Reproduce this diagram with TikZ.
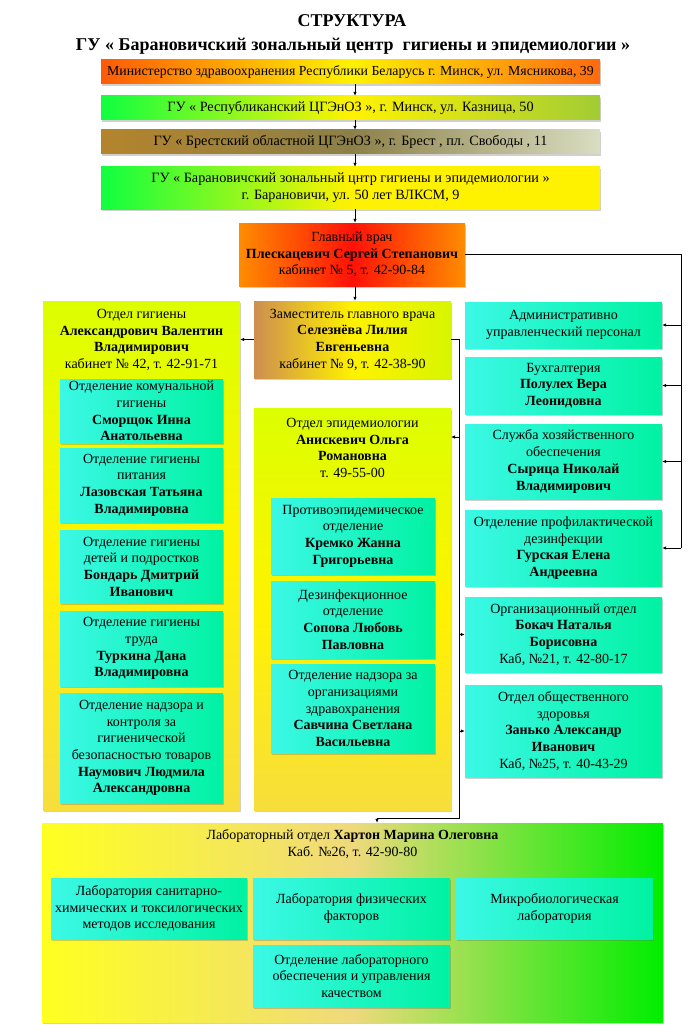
\documentclass[tikz,border=0pt]{standalone}
\usepackage{fontspec}
\setmainfont{Liberation Serif}
\usetikzlibrary{arrows.meta,shadows}
\definecolor{tqL}{HTML}{3CF8E6}
\definecolor{tqR}{HTML}{00F2A2}
\definecolor{orA}{HTML}{FF5A05}
\definecolor{orB}{HTML}{FF6A10}
\definecolor{yel}{HTML}{FFF200}
\definecolor{grA}{HTML}{10FF40}
\definecolor{olv}{HTML}{A2CC35}
\definecolor{brn}{HTML}{B4842C}
\definecolor{brM}{HTML}{8C8048}
\definecolor{pal}{HTML}{D9DDC2}
\definecolor{mdO}{HTML}{FF8C00}
\definecolor{mdR}{HTML}{FF1208}
\definecolor{dpL}{HTML}{CE8E50}
\definecolor{dpR}{HTML}{D8F500}
\definecolor{lime}{HTML}{DCFF00}
\definecolor{gold}{HTML}{F7DE3C}
\definecolor{labY}{HTML}{FFFF20}
\definecolor{labM}{HTML}{EFD97C}
\definecolor{labG}{HTML}{00EE00}
\tikzset{
  every node/.style={font=\fontsize{14}{16.7}\selectfont, align=center, inner sep=0pt, text=black},
  shd/.style={drop shadow={shadow xshift=1pt, shadow yshift=-2pt, opacity=0.3, fill=black!60}},
  tq/.style={shd, left color=tqL, right color=tqR},
  topbox/.style={shd, minimum width=499pt, font=\fontsize{14.2}{17}\selectfont},
  bigbox/.style={shd, top color=lime, bottom color=gold, middle color=yel},
  arr/.style={line width=1pt, -{Latex[length=4pt,width=3.5pt]}},
  ln/.style={line width=1pt}
}
\begin{document}
\begin{tikzpicture}[x=1pt,y=-1pt]
\useasboundingbox[fill=white] (0,0) rectangle (700,1035);
% titles
\node[font=\fontsize{18}{20}\selectfont\bfseries] (title) at (352,21) {СТРУКТУРА};
\node[font=\fontsize{18}{20}\selectfont\bfseries] (subtitle) at (353,46) {ГУ « Барановичский зональный центр \ гигиены и эпидемиологии »};
% top chain
\node[topbox, font=\fontsize{13.8}{17}\selectfont, minimum height=24pt, left color=orA, right color=orB, middle color=yel] (b1) at (350.5,72) {Министерство здравоохранения Республики Беларусь г. Минск, ул. Мясникова, 39};
\node[topbox, minimum height=24pt, left color=grA, right color=olv, middle color=yel] (b2) at (350.5,108) {ГУ « Республиканский ЦГЭнОЗ », г. Минск, ул. Казница, 50};
\node[topbox, minimum height=24pt, left color=brn, right color=pal, middle color=brM] (b3) at (350.5,142) {ГУ « Брестский областной ЦГЭнОЗ », г. Брест , пл. Свободы , 11};
\node[topbox, minimum height=42pt, left color=grA, right color=yel, middle color=yel] (b4) at (350.5,188) {ГУ « Барановичский зональный цнтр гигиены и эпидемиологии »\\г. Барановичи, ул. 50 лет ВЛКСМ, 9};
% main doctor
\node[shd, minimum width=226pt, minimum height=63pt, left color=mdO, right color=mdO, middle color=mdR] (md) at (352,254.5) {Главный врач\\\textbf{Плескацевич Сергей Степанович}\\кабинет № 5, т. 42-90-84};
% deputy
\node[shd, minimum width=197pt, minimum height=77pt, left color=dpL, right color=dpR, middle color=yel] (dep) at (352.5,339.5) {Заместитель главного врача\\\textbf{Селезнёва Лилия}\\\textbf{Евгеньевна}\\кабинет № 9, т. 42-38-90};
% hygiene dept
\node[bigbox, minimum width=197pt, minimum height=509pt] (hyg) at (141.5,555.5) {};
\node (hygT) at (141.5,340) {Отдел гигиены\\\textbf{Александрович Валентин}\\\textbf{Владимирович}\\кабинет № 42, т. 42-91-71};
\node[tq, minimum width=163pt, minimum height=64pt] (s1) at (141.5,411) {Отделение комунальной\\гигиены\\\textbf{Сморщок Инна}\\\textbf{Анатольевна}};
\node[tq, minimum width=163pt, minimum height=74pt] (s2) at (141.5,485) {Отделение гигиены\\питания\\\textbf{Лазовская Татьяна}\\\textbf{Владимировна}};
\node[tq, minimum width=163pt, minimum height=73pt] (s3) at (141.5,566.5) {Отделение гигиены\\детей и подростков\\\textbf{Бондарь Дмитрий}\\\textbf{Иванович}};
\node[tq, minimum width=163pt, minimum height=75pt] (s4) at (141.5,648.5) {Отделение гигиены\\труда\\\textbf{Туркина Дана}\\\textbf{Владимировна}};
\node[tq, minimum width=163pt, minimum height=110pt] (s5) at (141.5,748) {Отделение надзора и\\контроля за\\гигиенической\\безопасностью товаров\\\textbf{Наумович Людмила}\\\textbf{Александровна}};
% epidemiology dept
\node[bigbox, minimum width=197pt, minimum height=402pt] (epi) at (352.5,609) {};
\node (epiT) at (352.5,448) {Отдел эпидемиологии\\\textbf{Анискевич Ольга}\\\textbf{Романовна}\\т. 49-55-00};
\node[tq, minimum width=164pt, minimum height=76pt] (e1) at (353,536) {Противоэпидемическое\\отделение\\\textbf{Кремко Жанна}\\\textbf{Григорьевна}};
\node[tq, minimum width=164pt, minimum height=77pt] (e2) at (353,619.5) {Дезинфекционное\\отделение\\\textbf{Сопова Любовь}\\\textbf{Павловна}};
\node[tq, minimum width=164pt, minimum height=89pt] (e3) at (353,708.5) {Отделение надзора за\\организациями\\здравохранения\\\textbf{Савчина Светлана}\\\textbf{Васильевна}};
% right column
\node[tq, minimum width=197pt, minimum height=46pt] (adm) at (563.5,325) {Административно\\управленческий персонал};
\node[tq, minimum width=197pt, minimum height=57pt] (buh) at (563.5,385.5) {Бухгалтерия\\\textbf{Полулех Вера}\\\textbf{Леонидовна}};
\node[tq, minimum width=197pt, minimum height=75pt] (hoz) at (563.5,461.5) {Служба хозяйственного\\обеспечения\\\textbf{Сырица Николай}\\\textbf{Владимирович}};
\node[tq, minimum width=197pt, minimum height=76pt] (prof) at (563.5,548) {Отделение профилактической\\дезинфекции\\\textbf{Гурская Елена}\\\textbf{Андреевна}};
\node[tq, minimum width=197pt, minimum height=75pt] (org) at (563.5,634.5) {Организационный отдел\\\textbf{Бокач Наталья}\\\textbf{Борисовна}\\Каб, №21, т. 42-80-17};
\node[tq, minimum width=197pt, minimum height=92pt] (pub) at (563.5,731) {Отдел общественного\\здоровья\\\textbf{Занько Александр}\\\textbf{Иванович}\\Каб, №25, т. 40-43-29};
% lab
\node[shd, minimum width=621pt, minimum height=199pt, left color=labY, right color=labG, middle color=labM] (lab) at (352.5,922.5) {};
\node (labT) at (352.5,844) {Лабораторный отдел \textbf{Хартон Марина Олеговна}\\Каб. №26, т. 42-90-80};
\node[tq, minimum width=196pt, minimum height=61pt] (l1) at (149,908.5) {Лаборатория санитарно-\\химических и токсилогических\\методов исследования};
\node[tq, minimum width=197pt, minimum height=61pt] (l2) at (351.5,908.5) {Лаборатория физических\\факторов};
\node[tq, minimum width=197pt, minimum height=61pt] (l3) at (554.5,908.5) {Микробиологическая\\лаборатория};
\node[tq, minimum width=197pt, minimum height=62pt] (l4) at (351.5,976) {Отделение лабораторного\\обеспечения и управления\\качеством};
% connectors
\coordinate (ax) at (355,0);
\coordinate (rx) at (681,0);
\coordinate (lx) at (459,818);
\coordinate (lb) at (377,818);
\coordinate (epiA) at (451,437);
\draw[arr] (b1.south -| ax) -- (b2.north -| ax);
\draw[arr] (b2.south -| ax) -- (b3.north -| ax);
\draw[arr] (b3.south -| ax) -- (b4.north -| ax);
\draw[arr] (b4.south -| ax) -- (md.north -| ax);
\draw[arr] (md.south -| ax) -- (dep.north -| ax);
\draw[arr] (dep.west) -- (hyg.east |- dep.west);
\draw[ln] (md.east) -- (md.east -| rx) -- (prof.east -| rx);
\draw[arr] (adm.east -| rx) -- (adm.east);
\draw[arr] (buh.east -| rx) -- (buh.east);
\draw[arr] (hoz.east -| rx) -- (hoz.east);
\draw[arr] (prof.east -| rx) -- (prof.east);
\draw[arr] (dep.east) -- (dep.east -| lx) -- (lx) -- (lb) -- (lb |- lab.north);
\draw[arr] (epiA -| lx) -- (epiA);
\draw[arr] (org.west -| lx) -- (org.west);
\draw[arr] (pub.west -| lx) -- (pub.west);
\end{tikzpicture}
\end{document}
